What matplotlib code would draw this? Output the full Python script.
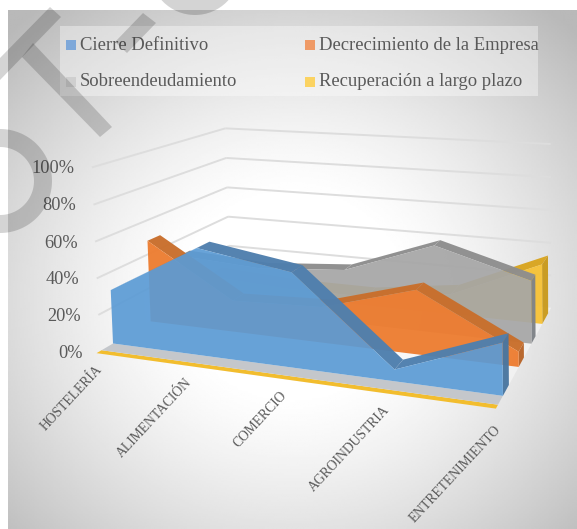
import numpy as np
import matplotlib
matplotlib.use("Agg")
import matplotlib.pyplot as plt
from matplotlib.patches import Rectangle, Polygon, Circle
from matplotlib.transforms import Affine2D
from mpl_toolkits.mplot3d.art3d import Poly3DCollection, Line3DCollection

categories = ["HOSTELERÍA", "ALIMENTACIÓN", "COMERCIO", "AGROINDUSTRIA", "ENTRETENIMIENTO"]
cierre = [30, 58, 50, 6, 26]
decrecimiento = [48, 18, 20, 35, 8]
sobreendeudamiento = [30, 27, 31, 50, 35]
recuperacion = [8, 5, 5, 12, 35]
y_ticks = [0, 20, 40, 60, 80, 100]
y_labels = ["0%", "20%", "40%", "60%", "80%", "100%"]
legend_names = ["Cierre Definitivo", "Decrecimiento de la Empresa", "Sobreendeudamiento", "Recuperación a largo plazo"]

W, H = 577, 529
plt.rcParams["font.family"] = ["Liberation Serif", "DejaVu Serif"]
fig = plt.figure(figsize=(W / 100, H / 100), dpi=100, facecolor="white")
px = Affine2D().scale(1 / W, -1 / H).translate(0, 1) + fig.transFigure

# background panel
bg = fig.add_axes([8 / W, 0, 1 - 8 / W, 1 - 10 / H], zorder=0)
yy, xx = np.mgrid[0:1:300j, 0:1:300j]
r = np.sqrt(((xx - 0.5) / 0.62) ** 2 + ((yy - 0.55) / 0.62) ** 2)
g = 255 - 70 * np.clip((r - 0.3) / 0.85, 0, 1) ** 1.3
bg.imshow(g, cmap="gray", vmin=0, vmax=255, aspect="auto", interpolation="bilinear")
bg.axis("off")

# camera fitted to the chart's frame: (category, depth, value) -> pixel
frame_world = np.array([[0, 0, 0], [0, 0, 100], [0, 1, 100], [0, 1, 0],
                        [4, 1, 100], [4, 1, 0], [4, 0, 0]], float)
frame_pixel = np.array([[97, 353], [87, 170], [227, 128], [229, 274],
                        [550, 143], [551, 310], [497, 407]], float)
rows, rhs = [], []
for (a, b, c), (u, v) in zip(frame_world, frame_pixel):
    rows.append([a, b, c, 1, 0, 0, 0, 0, -u * a, -u * b, -u * c]); rhs.append(u)
    rows.append([0, 0, 0, 0, a, b, c, 1, -v * a, -v * b, -v * c]); rhs.append(v)
sol = np.linalg.lstsq(np.array(rows), np.array(rhs), rcond=None)[0]
P = np.append(sol, 1).reshape(3, 4)


def project(t, d, v):
    q = P @ np.array([t, d, v, 1.0])
    return q[0] / q[2], q[1] / q[2]


ax = fig.add_axes([0, 0, 1, 1], projection="3d", zorder=1)
ax.set_axis_off()
ax.patch.set_visible(False)
ax.computed_zorder = False


def get_proj():
    flip = np.array([[1, 0, 0], [0, -1, H], [0, 0, 1.0]])
    to_data = ax.transData.get_affine().inverted().get_matrix()
    A = to_data @ flip @ P
    return np.array([A[0], A[1], [0, 1, 0, 0], A[2]])


ax.get_proj = get_proj
ax.apply_aspect = lambda position=None: None


def face(pts, color, alpha, z):
    c = Poly3DCollection([pts], facecolors=[color], edgecolors="none", alpha=alpha, clip_on=False)
    c.set_zorder(z)
    ax.add_collection3d(c, autolim=False)


n = len(categories)
# floor and front strips
face([(0, 0, 0), (4, 0, 0), (4, 1, 0), (0, 1, 0)], "#f6f6f6", 0.7, 1)
face([(0, 0, 0), (4, 0, 0), (4, 0.03, 0), (0, 0.03, 0)], "#f2bd2e", 1, 2)
face([(0, 0.03, 0), (4, 0.03, 0), (4, 0.1, 0), (0, 0.1, 0)], "#c4c7cb", 1, 2)

# gridlines on the walls
grid_segments = []
for v in y_ticks[1:]:
    grid_segments.append([(0, 0.02, v), (0, 1, v)])
    grid_segments.append([(0, 1, v), (4, 1, v)])
grid = Line3DCollection(grid_segments, colors="#dddddd", linewidths=1.4, clip_on=False)
grid.set_zorder(3)
ax.add_collection3d(grid, autolim=False)


def slab(values, d0, d1, front, top, side, z, a_front=0.9):
    for i in range(n - 1):
        v0, v1 = values[i], values[i + 1]
        face([(i, d0, v0), (i + 1, d0, v1), (i + 1, d1, v1), (i, d1, v0)], top, 0.97, z)
    face([(n - 1, d0, 0), (n - 1, d1, 0), (n - 1, d1, values[-1]), (n - 1, d0, values[-1])], side, 0.97, z)
    pts = [(i, d0, values[i]) for i in range(n)] + [(n - 1, d0, 0), (0, d0, 0)]
    face(pts, front, a_front, z + 1)


slab(recuperacion, 0.80, 0.93, "#f7c02c", "#d9a520", "#c99a1e", 10)
slab(sobreendeudamiento, 0.58, 0.66, "#a6a6a6", "#8e8e8e", "#7f8388", 20, 0.93)
slab(decrecimiento, 0.35, 0.44, "#ed7d31", "#c96f2c", "#b8652a", 30, 0.96)
slab(cierre, 0.10, 0.19, "#5b9bd5", "#4f7fae", "#4a76a0", 40, 0.92)

# value labels
txt = "#595959"
for v, lab in zip(y_ticks, y_labels):
    x, y = project(0, 0, v)
    fig.text(x - 14, y, lab, transform=px, ha="right", va="center", fontsize=13.2, color=txt, zorder=3)

# category labels
for i, lab in enumerate(categories):
    x, y = project(i, 0, 0)
    fig.text(x - 1.5, y + 10 + (i == n - 1) * 5, lab, transform=px, ha="right", va="top", rotation=47,
             rotation_mode="anchor", fontsize=9.8, color=txt, zorder=3)

# legend
fig.add_artist(Rectangle((60, 26), 478, 70, transform=px, fc="white", ec="none", alpha=0.38, zorder=2))
swatches = ["#7ea8d9", "#ef9a66", "#cfcfcf", "#fbd362"]
spots = [(66, 45), (305, 45), (66, 82), (305, 82)]
for name, col, (x, y) in zip(legend_names, swatches, spots):
    fig.add_artist(Rectangle((x, y - 5), 10, 10, transform=px, fc=col, ec="none", zorder=3))
    fig.text(x + 14, y, name, transform=px, ha="left", va="center", fontsize=13.4, color=txt, zorder=3)

# watermark strokes
mark = dict(transform=px, fc="black", ec="none", alpha=0.17, zorder=6)
ang = np.linspace(-90, 90, 60) * np.pi / 180
ring = [(52 * np.cos(a), 181 + 52 * np.sin(a)) for a in ang] + \
       [(34 * np.cos(a), 181 + 34 * np.sin(a)) for a in ang[::-1]]
for poly in ([(50, 7), (61, 17), (0, 80), (0, 58)],
             [(33, 43), (112, 127), (100, 137), (22, 57)],
             [(143, 13), (156, 23), (127, 53), (115, 42)],
             ring):
    fig.add_artist(Polygon(poly, closed=True, **mark))
fig.add_artist(Circle((195, -30), 45, **mark))

fig.savefig("out.png", dpi=100)
